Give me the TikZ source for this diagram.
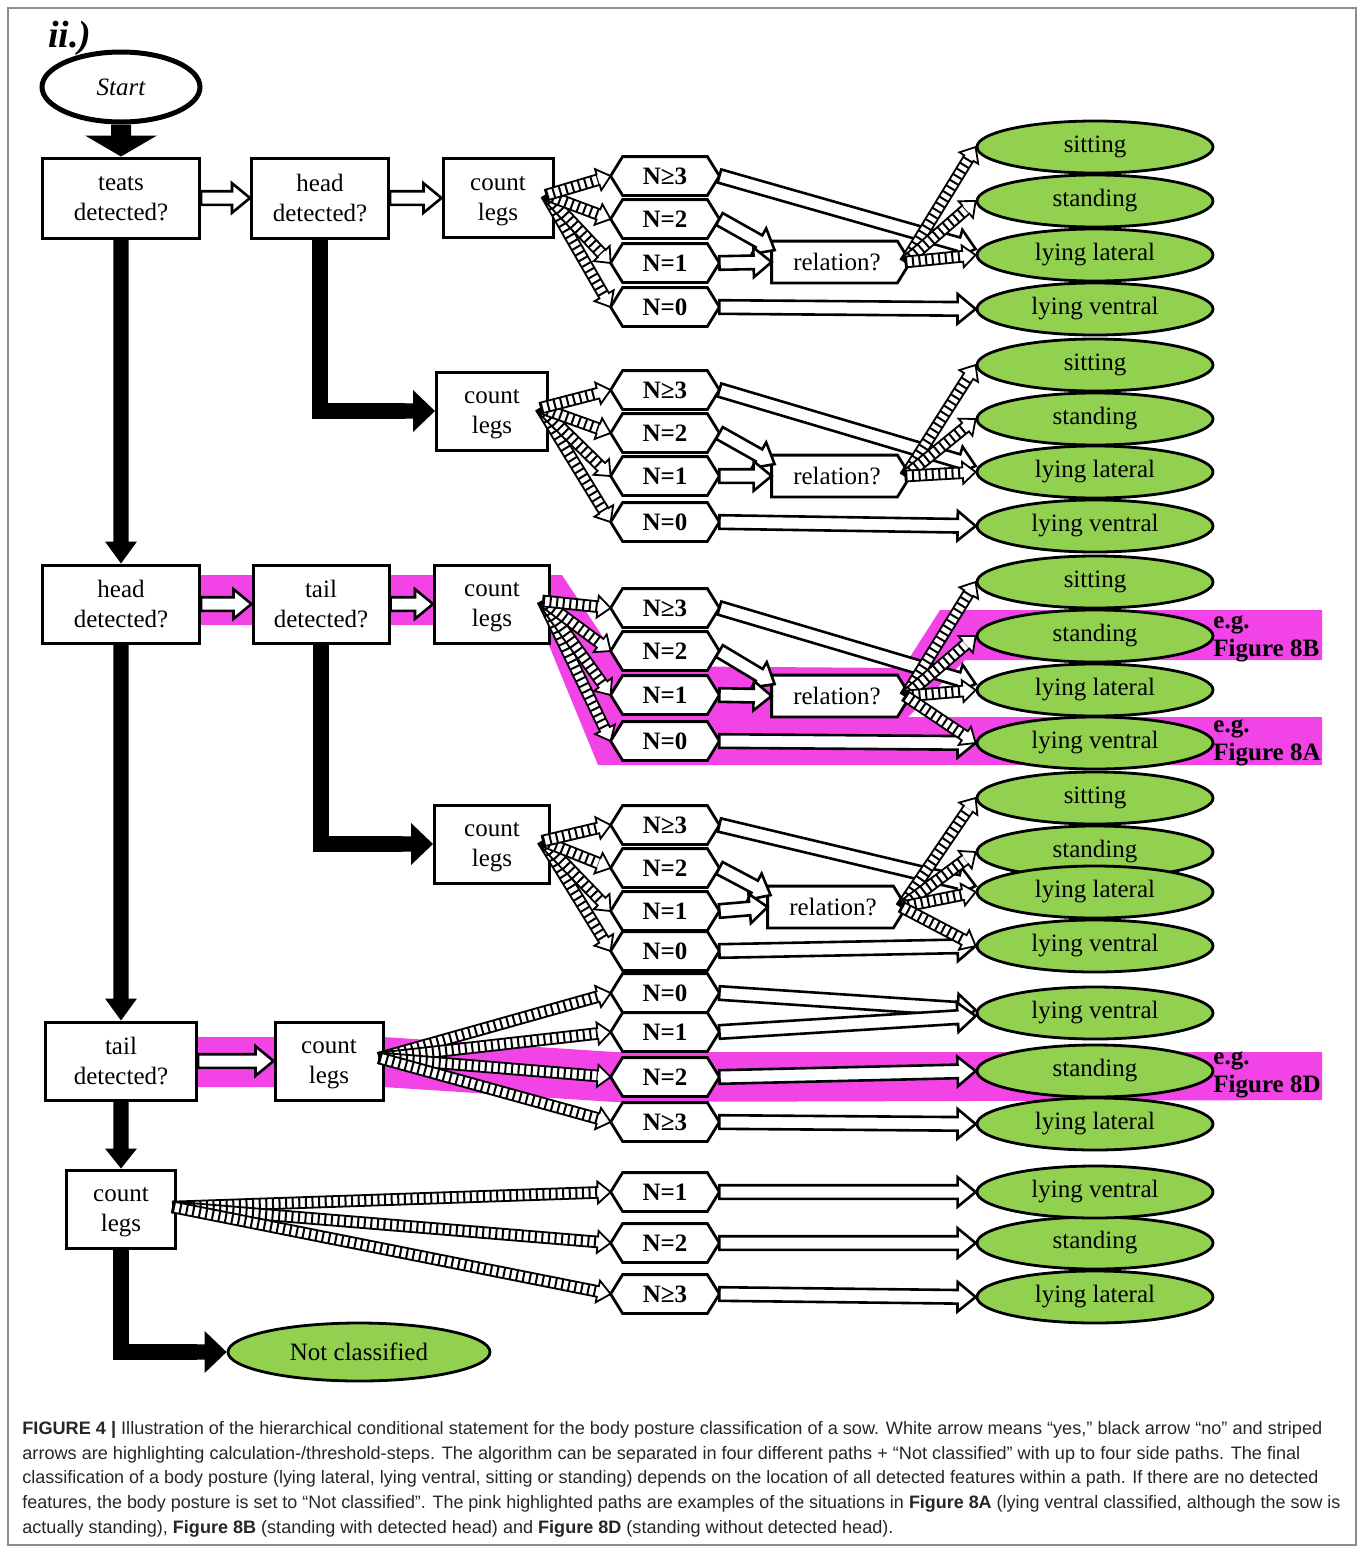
\documentclass[tikz,border=0pt]{standalone}
\usepackage{fontspec}
\setmainfont{Liberation Serif}
\newfontfamily\capfont{Liberation Sans}
\usetikzlibrary{calc,shapes.geometric}
\definecolor{pgreen}{RGB}{146,208,80}
\definecolor{hpink}{RGB}{242,68,230}
\newcommand\fsz{\fontsize{12.5}{15}\selectfont}
% generic block arrow: #1 style, #2 from, #3 to, #4 shaft half width, #5 head half width, #6 head length
\newcommand\blockarr[6]{%
  \coordinate (ba) at (#2);
  \coordinate (bb) at (#3);
  \coordinate (bh) at ($(bb)!#6!(ba)$);
  \path[#1] ($(ba)!#4!90:(bb)$) -- ($(bh)!#4!-90:(ba)$) -- ($(bh)!#5!-90:(ba)$) -- (bb) -- ($(bh)!#5!90:(ba)$) -- ($(bh)!#4!90:(ba)$) -- ($(ba)!#4!-90:(bb)$) -- cycle;
}
\newcommand\wharr[2]{\blockarr{draw,fill=white,line width=1.3pt,line join=miter}{#1}{#2}{3.4pt}{7.4pt}{9pt}}
\newcommand\strarr[2]{\blockarr{draw,fill=white,line width=0.9pt,line join=miter}{#1}{#2}{2.7pt}{5.5pt}{6.5pt}%
  \draw[line width=5.4pt, dash pattern=on 1pt off 2.3pt] (ba) -- (bh);}
\newcommand\bkarr[5]{\blockarr{fill=black}{#1}{#2}{#3}{#4}{#5}}
\newcommand\hexnode[3]{%
  \node[hexbase] (#1) at (#2) {};
  \draw[hexline] (#1.west) -- ($(#1.north west)+(12,0)$) -- ($(#1.north east)+(-12,0)$) -- (#1.east) -- ($(#1.south east)+(-12,0)$) -- ($(#1.south west)+(12,0)$) -- cycle;
  \node[hexlabel] (#1-t) at (#1) {#3};
}
\newcommand\relnode[2]{%
  \node[relbase] (#1) at (#2) {};
  \draw[hexline] (#1.north west) -- ($(#1.north east)+(-13,0)$) -- (#1.east) -- ($(#1.south east)+(-13,0)$) -- (#1.south west) -- cycle;
  \node[font=\fsz, inner sep=0pt] (#1-t) at ($(#1)+(-4,0)$) {relation?};
}
\begin{document}
\begin{tikzpicture}[x=0.5pt,y=-0.5pt,
  box/.style={draw, line width=1.5pt, fill=white, align=center, font=\fsz, inner sep=0pt, minimum height=39pt, text depth=0pt},
  endell/.style={ellipse, draw, line width=1.4pt, fill=pgreen, minimum width=118pt, minimum height=26pt, inner sep=0pt, font=\fsz},
  hexbase/.style={minimum width=54pt, minimum height=19pt, inner sep=0pt},
  relbase/.style={minimum width=69pt, minimum height=20.5pt, inner sep=0pt},
  hexline/.style={draw, line width=1.4pt, fill=white, line join=miter},
  hexlabel/.style={font=\bfseries\fsz, inner sep=0pt},
  eglab/.style={font=\bfseries\fsz, inner sep=0pt, anchor=base west},
  capline/.style={anchor=base west, inner sep=0pt, text=black!85, font=\capfont\fontsize{9}{11}\selectfont}
]
\useasboundingbox (0,0) rectangle (1360,1548);
\fill[white] (0,0) rectangle (1360,1548);
\draw[black!45, line width=0.7pt] (8,8) rectangle (1356,1545);

% pink highlighted paths
\fill[hpink] (200,575) -- (562,575) -- (622,666) -- (903,668) -- (940,610) -- (1322,610) -- (1322,660) -- (965,660) -- (908,717) -- (1322,717) -- (1322,765) -- (598,765) -- (548,643) -- (548,625) -- (200,625) -- cycle;
\fill[hpink] (197,1037) -- (383,1037) -- (615,1052) -- (1322,1052) -- (1322,1100) -- (615,1102) -- (383,1087) -- (197,1087) -- cycle;

% label and start
\node[font=\bfseries\itshape\fontsize{19}{20}\selectfont, inner sep=0pt] (lbl) at (70,38) {ii.)};
\node[ellipse, draw, line width=2.5pt, fill=white, minimum width=79pt, minimum height=35pt, inner sep=0pt, font=\itshape\fsz] (start) at (121,87) {Start};

% decision boxes
\node[box, minimum width=78.5pt, minimum height=40pt] (teats) at (121,198) {teats\\detected?};
\node[box, minimum width=68.5pt, minimum height=40pt] (head1) at (320,198) {head\\detected?};
\node[box, minimum width=55pt, minimum height=39.5pt] (cla) at (498,198) {count\\legs};
\node[box, minimum width=55.5pt] (clb) at (492,411) {count\\legs};
\node[box, minimum width=78.5pt] (head2) at (121,604) {head\\detected?};
\node[box, minimum width=68pt] (tail1) at (321,604) {tail\\detected?};
\node[box, minimum width=57.5pt] (clc) at (492,604) {count\\legs};
\node[box, minimum width=57.5pt] (cld) at (492,844) {count\\legs};
\node[box, minimum width=75.5pt] (tail2) at (121,1061) {tail\\detected?};
\node[box, minimum width=54pt] (cle) at (329,1061) {count\\legs};
\node[box, minimum width=54.5pt] (clf) at (121,1209) {count\\legs};

% count hexagons
\foreach \s/\yy in {a/176,b/390,c/608,d/825,e/1122,f/1294} {\hexnode{n3\s}{665,\yy}{N≥3}}
\foreach \s/\yy in {a/219,b/433,c/651,d/868,e/1077,f/1243} {\hexnode{n2\s}{665,\yy}{N=2}}
\foreach \s/\yy in {a/263,b/476,c/695,d/911,e/1032,f/1192} {\hexnode{n1\s}{665,\yy}{N=1}}
\foreach \s/\yy in {a/307,b/522,c/741,d/951,e/993} {\hexnode{n0\s}{665,\yy}{N=0}}

% relation nodes
\relnode{rela}{841,262}
\relnode{relb}{841,476}
\relnode{relc}{841,696}
\relnode{reld}{837,907}

% result ellipses
\foreach \s/\yy in {a/147,b/365,c/582,d/798} {\node[endell] (sit\s) at (1095,\yy) {sitting};}
\foreach \s/\yy in {a/201,b/419,c/636,d/852,e/1071,f/1243} {\node[endell] (sta\s) at (1095,\yy) {standing};}
\foreach \s/\yy in {a/255,b/472,c/690,d/892,e/1124,f/1297} {\node[endell] (lla\s) at (1095,\yy) {lying lateral};}
\foreach \s/\yy in {a/309,b/526,c/743,d/946,e/1013,f/1192} {\node[endell] (lve\s) at (1095,\yy) {lying ventral};}
\node[ellipse, draw, line width=1.4pt, fill=pgreen, minimum width=131pt, minimum height=29pt, inner sep=0pt, font=\fsz] (notcl) at (359,1352) {Not classified};

% example labels
\node[eglab] (eg1) at (1213,628) {e.g.};
\node[eglab] (fig8b) at (1213,656) {Figure 8B};
\node[eglab] (eg2) at (1213,732) {e.g.};
\node[eglab] (fig8a) at (1213,760) {Figure 8A};
\node[eglab] (eg3) at (1213,1064) {e.g.};
\node[eglab] (fig8d) at (1213,1092) {Figure 8D};

% black arrows (no)
\bkarr{start.south}{teats.north}{5pt}{18pt}{10.5pt}
\bkarr{teats.south}{head2.north}{3.8pt}{8pt}{11pt}
\bkarr{head2.south}{tail2.north}{3.8pt}{8pt}{11pt}
\bkarr{tail2.south}{clf.north}{3.8pt}{8pt}{10pt}
\draw[line width=7.6pt] (head1.south) |- ($(clb.west)+(-30,0)$);
\bkarr{$(clb.west)+(-40,0)$}{clb.west}{3.8pt}{10.5pt}{11pt}
\draw[line width=7.6pt] (tail1.south) |- ($(cld.west)+(-30,0)$);
\bkarr{$(cld.west)+(-40,0)$}{cld.west}{3.8pt}{10.5pt}{11pt}
\draw[line width=7.6pt] (clf.south) |- ($(notcl.west)+(-30,0)$);
\bkarr{$(notcl.west)+(-40,0)$}{notcl.west}{3.8pt}{10.5pt}{11pt}

% white arrows (yes) between boxes
\wharr{teats.east}{head1.west}
\wharr{head1.east}{cla.west}
\wharr{head2.east}{tail1.west}
\wharr{tail1.east}{clc.west}
\wharr{tail2.east}{cle.west}

% groups with relation
\foreach \s in {a,b,c,d} {
  \coordinate (o\s) at ($(cl\s.east)+(-8,-3)$);
  \wharr{n3\s.east}{$(lla\s.west)+(0,-6)$}
  \wharr{n2\s.east}{$(rel\s.north west)+(3,9)$}
  \wharr{n1\s.east}{rel\s.west}
  \wharr{n0\s.east}{lve\s.west}
  \strarr{o\s}{n0\s.west}
  \strarr{o\s}{n1\s.west}
  \strarr{o\s}{n2\s.west}
  \strarr{o\s}{n3\s.west}
  \coordinate (r\s) at ($(rel\s.east)+(-5,0)$);
  \strarr{r\s}{sit\s.west}
  \strarr{r\s}{sta\s.west}
  \strarr{r\s}{lla\s.west}
}
\strarr{rc}{lvec.west}
\strarr{rd}{lved.west}

% group e
\coordinate (oe) at ($(cle.east)+(-5,-3)$);
\wharr{n0e.east}{$(lvee.west)+(0,-3)$}
\wharr{n1e.east}{$(lvee.west)+(0,3)$}
\wharr{n2e.east}{stae.west}
\wharr{n3e.east}{llae.west}
\strarr{oe}{n0e.west}
\strarr{oe}{n1e.west}
\strarr{oe}{n2e.west}
\strarr{oe}{n3e.west}

% group f
\coordinate (of) at ($(clf.east)+(-4,-2)$);
\wharr{n1f.east}{lvef.west}
\wharr{n2f.east}{staf.west}
\wharr{n3f.east}{llaf.west}
\strarr{of}{n1f.west}
\strarr{of}{n2f.west}
\strarr{of}{n3f.west}

% caption
\node[capline] (cap1) at (22,1434) {\resizebox{650pt}{\height}{\textbf{FIGURE 4 |} Illustration of the hierarchical conditional statement for the body posture classification of a sow. White arrow means “yes,” black arrow “no” and striped}};
\node[capline] (cap2) at (22,1459) {\resizebox{639pt}{\height}{arrows are highlighting calculation-/threshold-steps. The algorithm can be separated in four different paths + “Not classified” with up to four side paths. The final}};
\node[capline] (cap3) at (22,1483) {\resizebox{648pt}{\height}{classification of a body posture (lying lateral, lying ventral, sitting or standing) depends on the location of all detected features within a path. If there are no detected}};
\node[capline] (cap4) at (22,1508) {\resizebox{659pt}{\height}{features, the body posture is set to “Not classified”. The pink highlighted paths are examples of the situations in \textbf{Figure 8A} (lying ventral classified, although the sow is}};
\node[capline] (cap5) at (22,1533) {\resizebox{435.5pt}{\height}{actually standing), \textbf{Figure 8B} (standing with detected head) and \textbf{Figure 8D} (standing without detected head).}};
\end{tikzpicture}
\end{document}
